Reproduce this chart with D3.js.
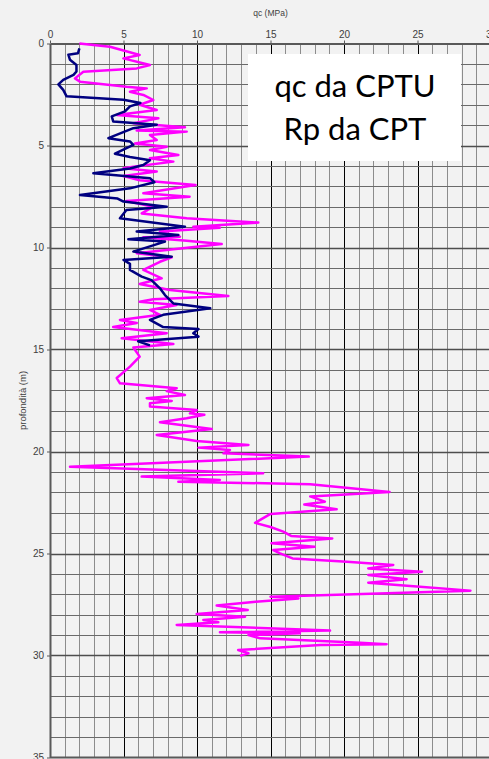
<!DOCTYPE html>
<html>
<head>
<meta charset="utf-8">
<script src="https://cdn.jsdelivr.net/npm/d3@7"></script>
<style>
  body { margin: 0; background: #f2f2f2; }
  svg { display: block; }
</style>
</head>
<body>
<div id="wrapper"></div>
<script>
// qc da CPTU (blu)
const cptuDepth = [0.24, 0.48, 0.55, 0.8, 1.05, 1.37, 1.54, 1.78, 2.0, 2.27, 2.59, 2.76, 2.92, 3.08, 3.33, 3.57, 3.82, 3.98, 4.15, 4.64, 4.8, 4.97, 5.4, 5.56, 5.72, 5.96, 6.13, 6.36, 6.6, 6.8, 7.1, 7.43, 7.6, 7.75, 8.0, 8.16, 8.57, 8.98, 9.22, 9.39, 9.6, 9.71, 10.2, 10.45, 10.61, 10.8, 11.1, 11.43, 11.6, 12.0, 12.33, 12.74, 12.98, 13.3, 13.55, 13.9, 14.0, 14.2, 14.37, 14.6, 14.8]
const cptuQc = [2.0, 1.9, 1.25, 1.36, 1.8, 1.8, 1.6, 0.9, 0.57, 0.9, 1.13, 5.0, 6.15, 5.44, 5.1, 4.2, 4.3, 7.26, 5.67, 3.97, 5.44, 5.67, 4.42, 5.44, 6.8, 6.35, 5.44, 2.95, 6.8, 7.1, 5.44, 2.04, 4.6, 5.0, 7.94, 5.2, 4.76, 9.18, 5.9, 8.73, 5.33, 7.82, 5.67, 8.28, 5.0, 5.44, 5.44, 6.24, 6.9, 7.48, 7.82, 8.39, 10.9, 7.7, 6.8, 7.7, 10.1, 9.75, 10.1, 6.0, 6.8]

// Rp da CPT (magenta)
const cptDepth = [0.0, 0.16, 0.32, 0.56, 0.73, 1.05, 1.22, 1.38, 1.71, 1.87, 2.12, 2.2, 2.37, 2.52, 2.77, 3.0, 3.26, 3.5, 3.67, 3.91, 4.11, 4.27, 4.32, 4.48, 4.73, 4.9, 5.06, 5.22, 5.47, 5.63, 5.79, 6.04, 6.12, 6.28, 6.5, 6.7, 6.94, 7.34, 7.51, 7.72, 8.0, 8.33, 8.57, 8.78, 8.98, 9.03, 9.22, 9.47, 9.5, 9.67, 9.83, 10.28, 10.48, 10.7, 11.1, 11.51, 11.79, 12.08, 12.38, 12.54, 12.66, 12.82, 13.06, 13.3, 13.55, 13.7, 13.9, 14.2, 14.45, 14.73, 14.9, 15.35, 15.84, 16.4, 16.66, 16.9, 17.04, 17.23, 17.39, 17.52, 17.64, 17.8, 17.97, 18.13, 18.2, 18.37, 18.57, 18.9, 19.19, 19.49, 19.68, 19.81, 19.93, 20.09, 20.25, 20.75, 21.07, 21.23, 21.4, 21.48, 21.6, 21.98, 22.2, 22.46, 22.6, 22.83, 23.06, 23.5, 23.7, 23.93, 24.14, 24.26, 24.5, 24.67, 24.83, 24.99, 25.24, 25.4, 25.56, 25.73, 25.89, 26.05, 26.26, 26.43, 26.62, 26.82, 27.12, 27.2, 27.36, 27.55, 27.77, 27.97, 28.1, 28.26, 28.37, 28.5, 28.78, 28.86, 28.91, 29.0, 29.16, 29.37, 29.45, 29.49, 29.73, 29.89, 30.02]
const cptRp = [2.0, 4.08, 4.88, 6.1, 4.99, 6.8, 5.9, 2.27, 1.7, 2.04, 5.2, 6.58, 5.44, 6.35, 7.03, 6.1, 7.26, 4.54, 7.37, 5.67, 9.18, 5.9, 9.3, 6.8, 7.26, 5.78, 7.94, 6.8, 8.73, 6.8, 8.39, 5.67, 5.0, 7.26, 5.0, 6.1, 9.9, 6.35, 9.5, 5.2, 7.03, 6.24, 9.3, 14.17, 9.75, 11.56, 7.48, 8.84, 6.35, 9.3, 11.68, 5.9, 8.28, 7.48, 6.35, 7.6, 6.1, 8.16, 12.13, 7.03, 6.1, 8.6, 6.8, 7.48, 4.76, 5.9, 4.3, 7.94, 4.88, 8.39, 5.67, 6.1, 5.44, 4.54, 4.76, 8.62, 7.94, 9.18, 6.58, 8.28, 6.8, 6.8, 9.98, 9.52, 10.5, 9.3, 7.48, 11.0, 7.26, 9.98, 13.5, 10.1, 12.24, 11.8, 17.6, 1.36, 14.5, 6.24, 11.56, 8.73, 17.7, 23.1, 17.7, 18.7, 17.3, 19.5, 15.0, 13.95, 15.0, 15.87, 16.4, 19.2, 15.07, 18.0, 15.19, 15.65, 16.5, 20.2, 23.35, 21.65, 25.3, 21.65, 24.26, 21.65, 24.95, 28.6, 15.0, 16.9, 14.0, 11.34, 13.45, 9.98, 13.27, 10.43, 11.45, 8.62, 19.05, 11.56, 17.0, 13.5, 14.3, 21.1, 22.9, 18.4, 12.8, 13.5, 12.93]

const xTicks = [0, 5, 10, 15, 20, 25, 30]
const yTicks = [0, 5, 10, 15, 20, 25, 30, 35]
const legendLines = ["qc da CPTU", "Rp da CPT"]

function drawChart() {
  let dimensions = {
    width: 489,
    height: 759,
    margin: { top: 43.5, left: 50 }
  }

  const wrapper = d3.select("#wrapper")
    .append("svg")
      .attr("width", dimensions.width)
      .attr("height", dimensions.height)

  const xScale = d3.scaleLinear()
    .domain([0, 30])
    .range([dimensions.margin.left, dimensions.margin.left + 441])

  const yScale = d3.scaleLinear()
    .domain([0, 35])
    .range([dimensions.margin.top, dimensions.margin.top + 714])

  const grid = wrapper.append("g")

  // griglia verticale ogni 1 MPa
  grid.selectAll(".vgrid")
    .data(d3.range(1, 31))
    .enter().append("line")
      .attr("x1", d => Math.round(xScale(d)) + 0.5)
      .attr("x2", d => Math.round(xScale(d)) + 0.5)
      .attr("y1", yScale(0))
      .attr("y2", yScale(35))
      .attr("stroke", d => d % 5 == 0 ? "#000" : "#8c8c8c")
      .attr("stroke-width", 1)

  // griglia orizzontale ogni 1 m
  grid.selectAll(".hgrid")
    .data(d3.range(1, 35))
    .enter().append("line")
      .attr("x1", xScale(0))
      .attr("x2", xScale(30))
      .attr("y1", d => Math.round(yScale(d)) + 0.5)
      .attr("y2", d => Math.round(yScale(d)) + 0.5)
      .attr("stroke", d => d % 5 == 0 ? "#4d4d4d" : "#6a6a6a")
      .attr("stroke-width", d => d % 5 == 0 ? 1.6 : 1)

  const xAxis = d3.axisTop(xScale)
    .tickValues(xTicks)
    .tickSize(3)
    .tickSizeOuter(0)
    .tickPadding(3)

  const yAxis = d3.axisLeft(yScale)
    .tickValues(yTicks)
    .tickSize(3)
    .tickSizeOuter(0)
    .tickPadding(3)

  const xAxisGroup = wrapper.append("g")
    .attr("transform", `translate(0, ${yScale(0)})`)
    .call(xAxis)

  const yAxisGroup = wrapper.append("g")
    .attr("transform", `translate(${xScale(0)}, 0)`)
    .call(yAxis)

  ;[xAxisGroup, yAxisGroup].forEach(g => {
    g.select(".domain").attr("stroke", "#595959").attr("stroke-width", 2)
    g.selectAll(".tick line").attr("stroke", "#595959")
    g.selectAll(".tick text")
      .attr("fill", "#404040")
      .style("font-family", "Liberation Sans, Arial, sans-serif")
      .style("font-size", "10px")
  })

  wrapper.append("line")
    .attr("x1", xScale(0))
    .attr("x2", xScale(30))
    .attr("y1", yScale(35))
    .attr("y2", yScale(35))
    .attr("stroke", "#595959")
    .attr("stroke-width", 2)

  wrapper.append("text")
    .attr("x", xScale(15))
    .attr("y", 16)
    .attr("text-anchor", "middle")
    .attr("fill", "#404040")
    .style("font-family", "Liberation Sans, Arial, sans-serif")
    .style("font-size", "8.5px")
    .text("qc (MPa)")

  wrapper.append("text")
    .attr("transform", `translate(26, ${yScale(17.5)}) rotate(-90)`)
    .attr("text-anchor", "middle")
    .attr("fill", "#404040")
    .style("font-family", "Liberation Sans, Arial, sans-serif")
    .style("font-size", "9.5px")
    .text("profondità (m)")

  const lineGenerator = d3.line()
    .x(d => xScale(d[1]))
    .y(d => yScale(d[0]))

  wrapper.append("path")
    .attr("d", lineGenerator(d3.zip(cptDepth, cptRp)))
    .attr("fill", "none")
    .attr("stroke", "#ff00ff")
    .attr("stroke-width", 2.5)
    .attr("stroke-linejoin", "round")

  wrapper.append("path")
    .attr("d", lineGenerator(d3.zip(cptuDepth, cptuQc)))
    .attr("fill", "none")
    .attr("stroke", "#000080")
    .attr("stroke-width", 2.5)
    .attr("stroke-linejoin", "round")

  // riquadro con il testo
  const legend = wrapper.append("g")

  legend.append("rect")
    .attr("x", 248)
    .attr("y", 54)
    .attr("width", 213)
    .attr("height", 107)
    .attr("fill", "#fff")

  legend.selectAll("text")
    .data(legendLines)
    .enter().append("text")
      .attr("x", 355)
      .attr("y", (d, i) => 97 + i * 43)
      .attr("text-anchor", "middle")
      .attr("fill", "#000")
      .style("font-family", "Lato, sans-serif")
      .style("font-size", "31px")
      .text(d => d)
}

drawChart()
</script>
</body>
</html>
